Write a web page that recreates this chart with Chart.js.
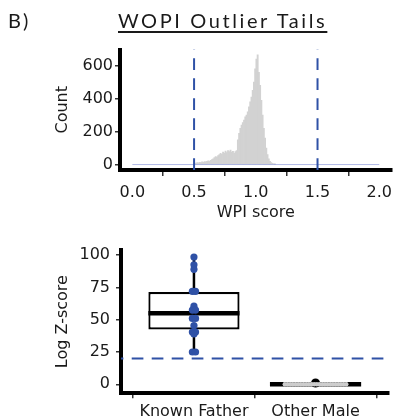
<!DOCTYPE html>
<html>
<head>
<meta charset="utf-8">
<script src="https://cdn.jsdelivr.net/npm/chart.js@4.4.1/dist/chart.umd.min.js"></script>
<style>
  body { margin: 0; background: #fff; width: 393px; height: 420px; overflow: hidden; position: relative; }
  .wrap { position: absolute; left: 0; width: 393px; }
  #topWrap { top: 0; height: 225px; }
  #botWrap { top: 225px; height: 195px; }
  .head { position: absolute; top: 11px; font: 20px Lato, sans-serif; line-height: 19px; color: #1a1a1a; white-space: nowrap; }
  #panelTag { left: 8px; letter-spacing: 2px; }
  #title { left: 118px; letter-spacing: 2.6px; text-decoration: underline; text-decoration-thickness: 1.5px; text-underline-offset: 3px; }
</style>
</head>
<body>
<div class="wrap" id="topWrap"><canvas id="histChart"></canvas></div>
<div class="wrap" id="botWrap"><canvas id="boxChart"></canvas></div>
<div class="head" id="panelTag">B)</div>
<div class="head" id="title">WOPI Outlier Tails</div>
<script>
// ---- histogram of WPI scores (bin centres, width 0.01) ----
const wpiBins = [
  0.505, 0.515, 0.525, 0.535, 0.545, 0.555, 0.565, 0.575, 0.585, 0.595,
  0.605, 0.615, 0.625, 0.635, 0.645, 0.655, 0.665, 0.675, 0.685, 0.695,
  0.705, 0.715, 0.725, 0.735, 0.745, 0.755, 0.765, 0.775, 0.785, 0.795,
  0.805, 0.815, 0.825, 0.835, 0.845, 0.855, 0.865, 0.875, 0.885, 0.895,
  0.905, 0.915, 0.925, 0.935, 0.945, 0.955, 0.965, 0.975, 0.985, 0.995,
  1.005, 1.015, 1.025, 1.035, 1.045, 1.055, 1.065, 1.075, 1.085, 1.095,
  1.105, 1.115, 1.125, 1.135, 1.145, 1.155
];
const wpiCounts = [
  10, 8, 12, 10, 14, 12, 16, 14, 18, 16,
  20, 22, 20, 26, 30, 35, 42, 48, 45, 55,
  60, 68, 62, 75, 70, 82, 72, 85, 78, 88,
  75, 80, 68, 78, 85, 150, 190, 220, 240, 255,
  270, 290, 300, 320, 350, 380, 410, 450, 500, 580,
  640, 665, 560, 480, 390, 300, 220, 160, 100, 60,
  35, 20, 12, 8, 5, 3
];
const wpiTicks = [0, 0.5, 1, 1.5, 2];
const countTicks = [0, 200, 400, 600];
const wpiCutoffs = [0.5, 1.5];
const wpiSpan = [0, 2];          // faint blue baseline
const wpiRange = [-0.1, 2.1];
const countRange = [-33, 698];

// ---- Log Z-score box plot ----
const groups = ['Known Father', 'Other Male'];
const groupPos = [1, 2];
const boxQ1 = [42.5, 0];
const boxQ3 = [71.5, 0];
const boxMedian = [55, 0];
const whiskerLow = [25, 0];
const whiskerHigh = [98.5, 0];
const fatherScores = [98.5, 92.5, 89, 72, 72, 60.5, 57.5, 57.5, 51, 51, 45.5, 40.5, 40.5, 39, 25, 25];
const otherMaleZeros = 24;       // grey dots piled at 0
const otherMaleOutlier = [1];
const zCutoff = 20;
const zTicks = [0, 25, 50, 75, 100];
const zRange = [-7, 104];
const groupRange = [0.4, 2.6];

const BLUE = '#2f51a6';
const BOX_W = 0.75;

Chart.defaults.font.family = "'DejaVu Sans', sans-serif";
Chart.defaults.font.size = 16;
Chart.defaults.color = '#1a1a1a';
Chart.defaults.animation = false;

// fixed axis sizes so the plot panels land where the figure has them
function fixSize(size) {
  return scale => {
    if (scale.isHorizontal()) scale.height = size; else scale.width = size;
    scale.paddingLeft = scale.paddingRight = scale.paddingTop = scale.paddingBottom = 0;
  };
}
function axisBase(extra) {
  return Object.assign({
    type: 'linear',
    offset: false,
    border: { display: true, color: '#000', width: 4 },
    grid: { drawOnChartArea: false, drawTicks: true, tickLength: 5, color: '#333', lineWidth: 1.5 },
  }, extra);
}
const plugins = { legend: { display: false }, tooltip: { enabled: false } };

// dotplot-style offsets for repeated values
function stackOffsets(values, step) {
  const seen = {};
  values.forEach(v => { seen[v] = (seen[v] || 0) + 1; });
  const used = {};
  return values.map(v => {
    const n = seen[v];
    const k = used[v] = (used[v] === undefined ? 0 : used[v] + 1);
    return (k - (n - 1) / 2) * step;
  });
}

// ----- top chart -----
new Chart(document.getElementById('histChart'), {
  data: {
    datasets: [
      ...wpiCutoffs.map(c => ({
        type: 'line',
        data: [{ x: c, y: countRange[0] }, { x: c, y: countRange[1] }],
        borderColor: BLUE, borderWidth: 2, borderDash: [11.7, 8.3],
        pointRadius: 0
      })),
      {
        type: 'line',
        data: wpiSpan.map(x => ({ x: x, y: 0 })),
        borderColor: 'rgba(80,100,200,0.45)', borderWidth: 1, pointRadius: 0
      },
      {
        type: 'bar',
        data: wpiBins.map((b, i) => ({ x: b, y: wpiCounts[i] })),
        backgroundColor: '#d2d2d2',
        categoryPercentage: 1, barPercentage: 1, borderWidth: 0
      }
    ]
  },
  options: {
    responsive: true, maintainAspectRatio: false,
    layout: { padding: { left: 50, top: 49.5, right: 1.4, bottom: 0 } },
    plugins,
    scales: {
      x: axisBase({
        min: wpiRange[0], max: wpiRange[1],
        afterBuildTicks: s => { s.ticks = wpiTicks.map(v => ({ value: v })); },
        afterFit: fixSize(55),
        grid: { drawOnChartArea: false, drawTicks: true, tickLength: 6, color: '#333', lineWidth: 1.5 },
        ticks: { padding: 7, maxRotation: 0, autoSkip: false, callback: v => v.toFixed(1) },
        title: { display: true, text: 'WPI score', padding: { top: 0, bottom: 3 } }
      }),
      y: axisBase({
        min: countRange[0], max: countRange[1],
        afterBuildTicks: s => { s.ticks = countTicks.map(v => ({ value: v })); },
        afterFit: fixSize(70),
        ticks: { padding: 2 },
        title: { display: true, text: 'Count', padding: { top: 3, bottom: 0 } }
      })
    }
  }
});

// ----- bottom chart -----
const fatherOffsets = stackOffsets(fatherScores, 0.026);
const zeroDots = Array.from({ length: otherMaleZeros }, (_, i) => ({
  x: groupPos[1] + (i - (otherMaleZeros - 1) / 2) * 0.022, y: 0
}));

new Chart(document.getElementById('boxChart'), {
  data: {
    datasets: [
      {
        type: 'scatter',
        data: fatherScores.map((v, i) => ({ x: groupPos[0] + fatherOffsets[i], y: v })),
        backgroundColor: BLUE, borderWidth: 0, pointRadius: 3.6
      },
      {
        type: 'scatter',
        data: zeroDots,
        backgroundColor: '#cdcdcd', borderWidth: 0, pointRadius: 2.2
      },
      {
        type: 'scatter',
        data: otherMaleOutlier.map(v => ({ x: groupPos[1], y: v })),
        backgroundColor: '#000', borderWidth: 0, pointRadius: 4.5
      },
      ...groupPos.map((p, i) => ({
        type: 'line',
        data: [{ x: p - BOX_W / 2, y: boxMedian[i] }, { x: p + BOX_W / 2, y: boxMedian[i] }],
        borderColor: '#000', borderWidth: 4.5, pointRadius: 0, borderCapStyle: 'butt'
      })),
      {
        type: 'bar',
        data: groupPos.map((p, i) => ({ x: p, y: [boxQ1[i], boxQ3[i]] })),
        backgroundColor: '#fff', borderColor: '#000', borderWidth: 2.2, borderSkipped: false,
        categoryPercentage: BOX_W, barPercentage: 1
      },
      ...groupPos.map((p, i) => ({
        type: 'line',
        data: [{ x: p, y: whiskerLow[i] }, { x: p, y: whiskerHigh[i] }],
        borderColor: '#000', borderWidth: 2.5, pointRadius: 0
      })),
      {
        type: 'line',
        data: groupRange.map(x => ({ x: x, y: zCutoff })),
        borderColor: BLUE, borderWidth: 2, borderDash: [11.7, 8.3], borderDashOffset: 9.3,
        pointRadius: 0
      }
    ]
  },
  options: {
    responsive: true, maintainAspectRatio: false,
    layout: { padding: { left: 50, top: 25, right: 0.7, bottom: 0 } },
    plugins,
    scales: {
      x: axisBase({
        min: groupRange[0], max: groupRange[1],
        afterBuildTicks: s => { s.ticks = groupPos.map(v => ({ value: v })); },
        afterFit: fixSize(26.7),
        ticks: { padding: 4, maxRotation: 0, autoSkip: false, callback: v => groups[groupPos.indexOf(v)] }
      }),
      y: axisBase({
        min: zRange[0], max: zRange[1],
        afterBuildTicks: s => { s.ticks = zTicks.map(v => ({ value: v })); },
        afterFit: fixSize(71),
        ticks: { padding: 6 },
        title: { display: true, text: 'Log Z-score', padding: { top: 3, bottom: 0 } }
      })
    }
  }
});
</script>
</body>
</html>
